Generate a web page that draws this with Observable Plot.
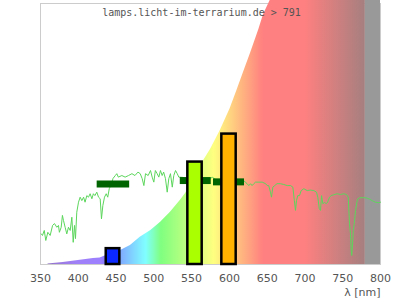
<!DOCTYPE html>
<html>
<head>
<meta charset="utf-8">
<script src="https://cdn.jsdelivr.net/npm/d3@7"></script>
<script src="https://cdn.jsdelivr.net/npm/@observablehq/plot@0.6"></script>
<style>
  html, body { margin: 0; padding: 0; background: #fff; }
  #chart { width: 400px; height: 300px; }
</style>
</head>
<body>
<div id="chart"></div>
<script>
// ---- data ----
const titleText = "lamps.licht-im-terrarium.de > 791";
const axisLabel = "λ [nm]";
const xTicks = [350, 400, 450, 500, 550, 600, 650, 700, 750, 800];

// envelope of the coloured spectrum background (relative units 0..100)
const curveNm  = [360, 380, 400, 420, 429, 440, 456, 469, 482, 496, 509, 522, 535, 542, 566, 575, 588, 601, 610, 619, 628, 639, 645, 654, 780];
const curveVal = [0.2, 0.8, 1.5, 2.3, 2.5, 3.8, 5.3, 7.2, 10.3, 12.9, 16.0, 19.8, 24.2, 26.9, 39.4, 43.6, 50.8, 59.0, 65.9, 73.0, 80.0, 89.0, 94.5, 100, 100];

// invisible (grey) range
const greyFrom = 780, greyTo = 800;

// measured spectrum (green line)
const sunNm = [351, 352.6, 355, 357, 359.7, 362.8, 366, 368.5, 371.6, 373.8, 375, 377.4, 379, 380.4, 382.6, 384.8, 387, 389.3, 391.5, 393.3, 395, 396.3, 398, 400.3, 402.5, 404.7, 407, 409, 411.3, 413.5, 415.7, 418, 420, 422, 424.5, 426.8, 429, 430.7, 432.5, 434.7, 437, 439, 441, 444, 446, 449, 451, 453, 457.7, 462, 466.5, 471, 475, 479, 482, 484.6, 486.8, 489, 492.5, 495.6, 497.8, 500, 502, 504.4, 506.6, 508.8, 511, 513, 515.4, 517.7, 519.8, 522, 524.4, 526.4, 528.7, 531, 533, 538, 542, 548, 555, 562, 568, 574, 577.6, 584, 592, 600, 608, 615, 619, 621, 623.5, 625.7, 628, 630, 632.3, 634.6, 639, 643.4, 648, 650, 652, 654.4, 655.7, 657.5, 660, 663, 667.6, 672, 676.5, 681, 684, 686, 687.5, 688.8, 690.5, 692.8, 695, 698.5, 703, 707, 711.7, 715.3, 717, 719, 720.6, 722, 723.7, 726, 728, 730, 732.5, 734.7, 738, 742.7, 747, 751.4, 755, 757.3, 759, 760.3, 761.2, 762, 763, 764, 765.2, 767, 768.7, 770, 772.6, 775.8, 780, 784.5, 789, 793.2, 797.7, 800];
const sunVal = [11.6, 11.0, 12.9, 9.1, 12.2, 11.0, 14.8, 15.5, 14.1, 14.8, 12.2, 14.1, 18.6, 16.7, 14.1, 11.6, 14.1, 12.9, 17.9, 8.4, 14.8, 9.8, 19.8, 23.6, 25.5, 24.2, 25.5, 23.6, 26.1, 25.5, 26.8, 24.9, 26.8, 26.1, 27.4, 25.5, 24.9, 17.3, 22.3, 25.5, 26.8, 25.5, 28.7, 30.7, 32.6, 33.7, 34.4, 33.1, 33.7, 33.1, 33.7, 34.4, 33.7, 35.0, 34.4, 32.5, 29.9, 34.4, 33.7, 35.6, 33.1, 31.2, 35.6, 34.4, 33.1, 35.6, 33.7, 35.0, 32.5, 27.4, 32.5, 34.4, 29.3, 33.7, 35.6, 34.4, 33.1, 33.0, 32.2, 31.8, 32.6, 31.8, 32.2, 32.6, 33.0, 31.8, 31.4, 31.8, 31.1, 31.4, 31.8, 31.2, 30.6, 29.9, 30.6, 29.9, 30.6, 31.2, 31.2, 31.2, 30.6, 29.9, 29.9, 27.4, 25.5, 29.3, 29.9, 30.6, 30.6, 30.3, 29.9, 29.9, 29.3, 24.2, 20.5, 24.2, 26.1, 26.1, 28.0, 28.7, 28.0, 28.2, 28.0, 27.4, 25.5, 21.1, 20.5, 26.1, 23.0, 23.6, 23.0, 23.6, 25.5, 26.1, 26.4, 26.8, 26.5, 26.8, 26.5, 25.5, 15.4, 11.6, 5.3, 3.4, 7.8, 12.9, 15.4, 20.5, 23.6, 24.9, 25.3, 25.3, 25.3, 24.9, 24.2, 23.6, 23.4, 23.6];

// band averages (dark green bars)
const avgLo  = [425, 535, 579];
const avgHi  = [468, 576, 620];
const avgVal = [30.5, 31.8, 31.3];

// coloured bars
const barLo    = [437, 545, 590];
const barHi    = [455, 564, 609];
const barVal   = [6.0, 38.8, 49.4];
const barColor = ["#0a28ff", "#aaff00", "#ffb300"];

// spectrum colour stops
const stopNm    = [360, 370, 400, 430, 440, 460, 480, 490, 500, 510, 545, 580, 600, 620, 645, 700, 780];
const stopColor = ["#9070c0", "#9878d8", "#a080f8", "#9c80ff", "#8080ff", "#80b3ff", "#80e6ff", "#80ffff", "#80ffbf", "#80ff80", "#bfff80", "#ffff80", "#ffd880", "#ffb080", "#ff8080", "#ff8080", "#a67f7f"];

// ---- tables ----
const curve = curveNm.map((nm, i) => ({nm, v: curveVal[i]}));
const sun = sunNm.map((nm, i) => ({nm, v: sunVal[i]}));
const avg = avgLo.map((lo, i) => ({lo, hi: avgHi[i], v: avgVal[i]}));
const bars = barLo.map((lo, i) => ({lo, hi: barHi[i], v: barVal[i], color: barColor[i]}));
const grey = [{lo: greyFrom, hi: greyTo}];

const plot = Plot.plot({
  width: 400,
  height: 300,
  marginTop: 0,
  marginLeft: 40,
  marginRight: 20,
  marginBottom: 36,
  style: {background: "#fff", fontFamily: "DejaVu Sans", fontSize: "11px", color: "#555"},
  x: {domain: [350, 800]},
  y: {domain: [0, 100], axis: null},
  color: {type: "identity"},
  marks: [
    Plot.frame({stroke: "#ccc", insetTop: 3}),
    Plot.areaY(curve, {x: "nm", y: "v", fill: "url(#spectrum)"}),
    Plot.rect(grey, {x1: "lo", x2: "hi", y1: 0, y2: 100, fill: "#999"}),
    Plot.ruleY([0], {stroke: "#ccc"}),
    Plot.line(sun, {x: "nm", y: "v", stroke: "#5cd65c", strokeWidth: 1}),
    Plot.ruleY(avg, {y: "v", x1: "lo", x2: "hi", stroke: "#006400", strokeWidth: 7}),
    Plot.rectY(bars, {x1: "lo", x2: "hi", y: "v", fill: "color", stroke: "#000", strokeWidth: 2.5}),
    Plot.text([titleText], {frameAnchor: "top", dx: -9, dy: 8, fontFamily: "DejaVu Sans Mono", fontSize: 10, fill: "#555"}),
    Plot.text([axisLabel], {frameAnchor: "bottom-right", lineAnchor: "middle", dy: 28, fill: "#555", fontSize: 11}),
    Plot.axisX({ticks: xTicks, tickSize: 0, tickPadding: 10, tickFormat: d => String(d), label: null, fill: "#555"})
  ]
});

// horizontal spectrum gradient
const ns = "http://www.w3.org/2000/svg";
const xs = plot.scale("x");
const defs = document.createElementNS(ns, "defs");
const grad = document.createElementNS(ns, "linearGradient");
grad.setAttribute("id", "spectrum");
grad.setAttribute("gradientUnits", "userSpaceOnUse");
grad.setAttribute("x1", xs.apply(350));
grad.setAttribute("x2", xs.apply(800));
grad.setAttribute("y1", 0);
grad.setAttribute("y2", 0);
stopNm.forEach((nm, i) => {
  const s = document.createElementNS(ns, "stop");
  s.setAttribute("offset", (nm - 350) / 450);
  s.setAttribute("stop-color", stopColor[i]);
  grad.appendChild(s);
});
defs.appendChild(grad);
plot.insertBefore(defs, plot.firstChild);

document.getElementById("chart").appendChild(plot);
</script>
</body>
</html>
